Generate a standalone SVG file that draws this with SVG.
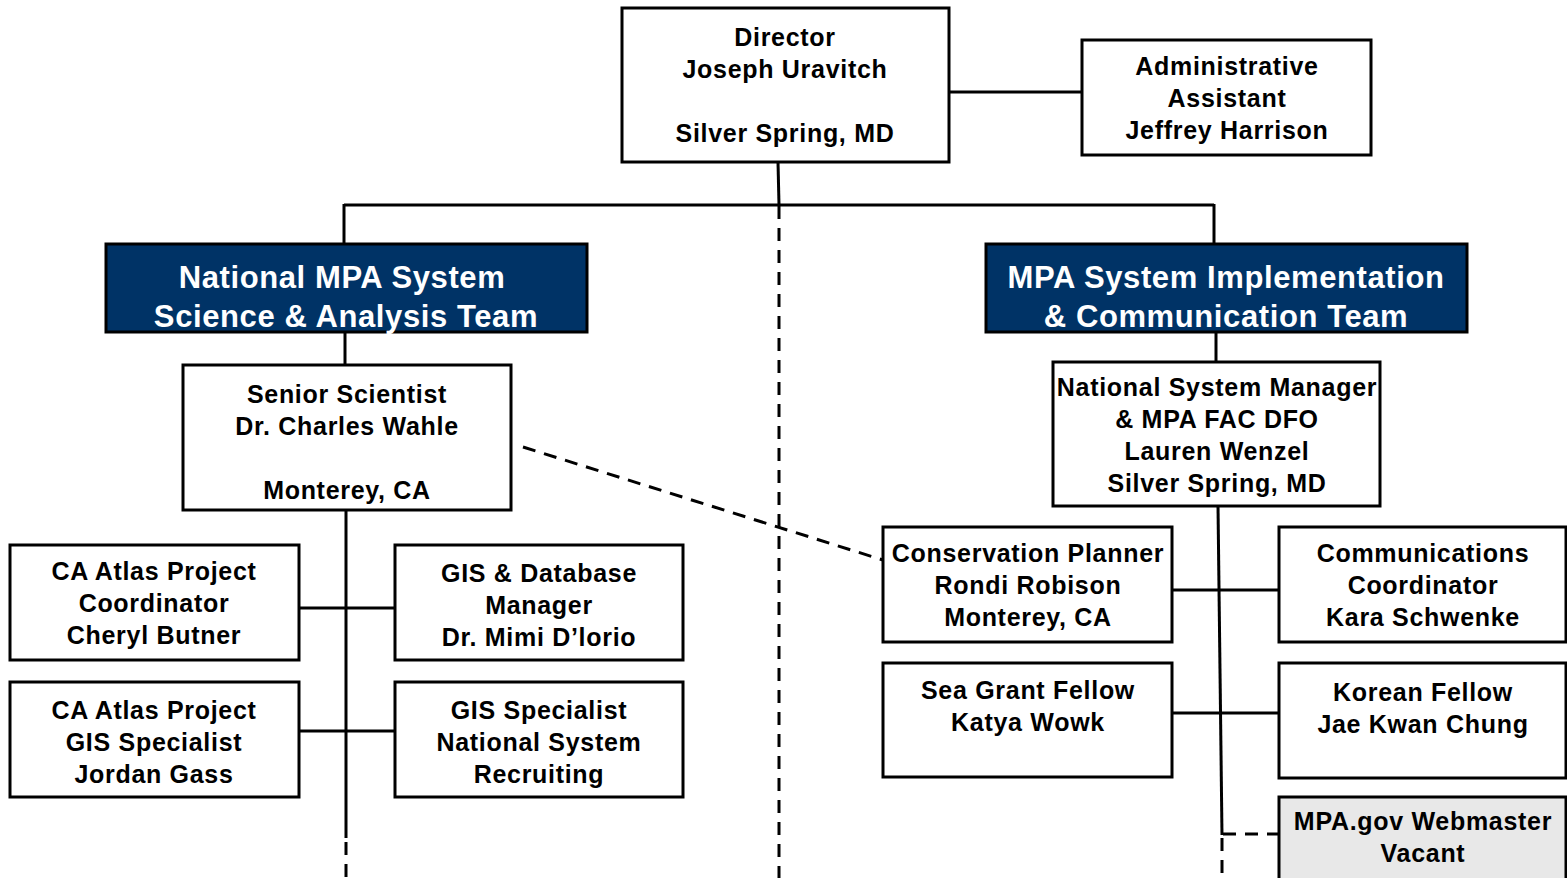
<svg xmlns="http://www.w3.org/2000/svg" width="1567" height="878" viewBox="0 0 1567 878">
<style>
.box{fill:#fff;stroke:#000;stroke-width:3}
.team{fill:#003366;stroke:#000;stroke-width:3}
.gray{fill:#e8e8e8;stroke:#000;stroke-width:3}
.t{font-family:"Liberation Sans",Arial,sans-serif;font-weight:bold;font-size:25px;letter-spacing:0.7px;fill:#000;text-anchor:middle}
.tw{font-family:"Liberation Sans",Arial,sans-serif;font-weight:bold;font-size:31px;letter-spacing:0.6px;fill:#fff;text-anchor:middle}
.ln{stroke:#000;stroke-width:3;fill:none}
.dl{stroke:#000;stroke-width:3;fill:none;stroke-dasharray:13 9}
</style>
<rect width="1567" height="878" fill="#fff"/>
<g id="connectors">
<line class="ln" x1="949" y1="92" x2="1082" y2="92"/>
<line class="ln" x1="778" y1="162" x2="779" y2="205"/>
<line class="ln" x1="344" y1="205" x2="1214" y2="205"/>
<line class="ln" x1="344" y1="204" x2="344" y2="244"/>
<line class="ln" x1="1214" y1="204" x2="1214" y2="244"/>
<line class="dl" x1="779" y1="206" x2="779" y2="878"/>
<line class="ln" x1="345" y1="332" x2="345" y2="365"/>
<line class="ln" x1="346" y1="510" x2="346" y2="838"/>
<line class="dl" x1="346" y1="842" x2="346" y2="878"/>
<line class="ln" x1="299" y1="608" x2="395" y2="608"/>
<line class="ln" x1="299" y1="731" x2="395" y2="731"/>
<line class="ln" x1="1216" y1="332" x2="1216" y2="362"/>
<line class="ln" x1="1218" y1="506" x2="1222" y2="835"/>
<line class="dl" x1="1222" y1="838" x2="1222" y2="878"/>
<line class="dl" x1="1223" y1="834" x2="1279" y2="834"/>
<line class="ln" x1="1172" y1="590" x2="1279" y2="590"/>
<line class="ln" x1="1172" y1="713" x2="1279" y2="713"/>
<line class="dl" x1="523" y1="447" x2="883" y2="560"/>
</g>
<g id="director">
<rect class="box" x="622" y="8" width="327" height="154"/>
<text class="t" x="785" y="46">Director</text>
<text class="t" x="785" y="78">Joseph Uravitch</text>
<text class="t" x="785" y="142">Silver Spring, MD</text>
</g>
<g id="admin">
<rect class="box" x="1082" y="40" width="289" height="115"/>
<text class="t" x="1227" y="75">Administrative</text>
<text class="t" x="1227" y="107">Assistant</text>
<text class="t" x="1227" y="139">Jeffrey Harrison</text>
</g>
<g id="team-science">
<rect class="team" x="106" y="244" width="481" height="88"/>
<text class="tw" x="342" y="288">National MPA System</text>
<text class="tw" x="346" y="327">Science &amp; Analysis Team</text>
</g>
<g id="team-implementation">
<rect class="team" x="986" y="244" width="481" height="88"/>
<text class="tw" x="1226" y="288">MPA System Implementation</text>
<text class="tw" x="1226" y="327">&amp; Communication Team</text>
</g>
<g id="senior-scientist">
<rect class="box" x="183" y="365" width="328" height="145"/>
<text class="t" x="347" y="403">Senior Scientist</text>
<text class="t" x="347" y="435">Dr. Charles Wahle</text>
<text class="t" x="347" y="499">Monterey, CA</text>
</g>
<g id="ca-atlas-coordinator">
<rect class="box" x="10" y="545" width="289" height="115"/>
<text class="t" x="154" y="580">CA Atlas Project</text>
<text class="t" x="154" y="612">Coordinator</text>
<text class="t" x="154" y="644">Cheryl Butner</text>
</g>
<g id="gis-db-manager">
<rect class="box" x="395" y="545" width="288" height="115"/>
<text class="t" x="539" y="582">GIS &amp; Database</text>
<text class="t" x="539" y="614">Manager</text>
<text class="t" x="539" y="646">Dr. Mimi D’lorio</text>
</g>
<g id="ca-atlas-gis">
<rect class="box" x="10" y="682" width="289" height="115"/>
<text class="t" x="154" y="719">CA Atlas Project</text>
<text class="t" x="154" y="751">GIS Specialist</text>
<text class="t" x="154" y="783">Jordan Gass</text>
</g>
<g id="gis-specialist">
<rect class="box" x="395" y="682" width="288" height="115"/>
<text class="t" x="539" y="719">GIS Specialist</text>
<text class="t" x="539" y="751">National System</text>
<text class="t" x="539" y="783">Recruiting</text>
</g>
<g id="national-system-manager">
<rect class="box" x="1053" y="362" width="327" height="144"/>
<text class="t" x="1217" y="396">National System Manager</text>
<text class="t" x="1217" y="428">&amp; MPA FAC DFO</text>
<text class="t" x="1217" y="460">Lauren Wenzel</text>
<text class="t" x="1217" y="492">Silver Spring, MD</text>
</g>
<g id="conservation-planner">
<rect class="box" x="883" y="527" width="289" height="115"/>
<text class="t" x="1028" y="562">Conservation Planner</text>
<text class="t" x="1028" y="594">Rondi Robison</text>
<text class="t" x="1028" y="626">Monterey, CA</text>
</g>
<g id="communications-coordinator">
<rect class="box" x="1279" y="527" width="287" height="115"/>
<text class="t" x="1423" y="562">Communications</text>
<text class="t" x="1423" y="594">Coordinator</text>
<text class="t" x="1423" y="626">Kara Schwenke</text>
</g>
<g id="sea-grant-fellow">
<rect class="box" x="883" y="663" width="289" height="114"/>
<text class="t" x="1028" y="699">Sea Grant Fellow</text>
<text class="t" x="1028" y="731">Katya Wowk</text>
</g>
<g id="korean-fellow">
<rect class="box" x="1279" y="663" width="287" height="115"/>
<text class="t" x="1423" y="701">Korean Fellow</text>
<text class="t" x="1423" y="733">Jae Kwan Chung</text>
</g>
<g id="webmaster">
<rect class="gray" x="1279" y="797" width="287" height="83"/>
<text class="t" x="1423" y="830">MPA.gov Webmaster</text>
<text class="t" x="1423" y="862">Vacant</text>
</g>
</svg>
